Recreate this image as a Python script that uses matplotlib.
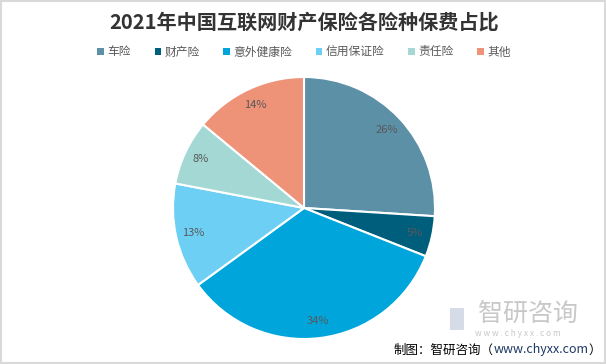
import matplotlib.pyplot as plt
from matplotlib.patches import Patch, Rectangle

plt.rcParams['font.family'] = ['Noto Sans CJK SC', 'DejaVu Sans']

# 数据
categories = ["车险", "财产险", "意外健康险", "信用保证险", "责任险", "其他"]
shares = [26, 5, 34, 13, 8, 14]
colors = ["#5B90A7", "#005E7D", "#00A6DB", "#6ECFF5", "#A3D8D5", "#EE9278"]

W, H = 606, 364
fig = plt.figure(figsize=(W / 100, H / 100), dpi=100)

# 边框
fig.add_artist(Rectangle((0.002, 0.002), 0.996, 0.994, transform=fig.transFigure,
                         fill=False, edgecolor="#D9D9D9", linewidth=1.5))

# 饼图位置
cx, cy, r = 304, 208, 131
ax = fig.add_axes([(cx - r) / W, (H - cy - r) / H, 2 * r / W, 2 * r / H])
wedges, texts, autotexts = ax.pie(
    shares, colors=colors, startangle=90, counterclock=False,
    autopct="%d%%", pctdistance=0.87, radius=1,
    wedgeprops=dict(edgecolor="white", linewidth=1.5),
    textprops=dict(color="#595959", fontsize=8))
ax.set_xlim(-1, 1)
ax.set_ylim(-1, 1)
ax.set_aspect("equal")

# 标题
fig.text(cx / W, 1 - 22 / H, "2021年中国互联网财产保险各险种保费占比",
         ha="center", va="center", fontsize=14.5, fontweight="bold", color="#333333")

# 图例
handles = [Patch(facecolor=c, edgecolor="none") for c in colors]
fig.legend(handles, categories, loc="center", bbox_to_anchor=(cx / W, 1 - 52 / H),
           ncol=6, frameon=False, fontsize=8.5, handlelength=0.55, handleheight=0.55,
           handletextpad=0.3, columnspacing=2.0, labelcolor="#595959")

# 水印
fig.text(528 / W, 1 - 314 / H, "智研咨询", ha="center", va="center",
         fontsize=18, color="#C8C8C8")
fig.text(518 / W, 1 - 333 / H, "w w w . c h y x x . c o m", ha="center", va="center",
         fontsize=6, color="#C8C8C8")
fig.add_artist(Rectangle((450 / W, 1 - 330 / H), 14 / W, 22 / H,
                         transform=fig.transFigure, facecolor="#D5DCE8", edgecolor="none"))

# 来源（从右往左排）
fig.canvas.draw()
renderer = fig.canvas.get_renderer()
y_src = 1 - 350 / H
x_right = 601 / W
parts = [("）", "black"), ("www.chyxx.com", "#1F3864"), ("制图：智研咨询（", "black")]
for s, c in parts:
    t = fig.text(x_right, y_src, s, ha="right", va="center", fontsize=9, color=c)
    bb = t.get_window_extent(renderer)
    x_right = bb.x0 / W

plt.savefig("out.png", dpi=100)
plt.close()
